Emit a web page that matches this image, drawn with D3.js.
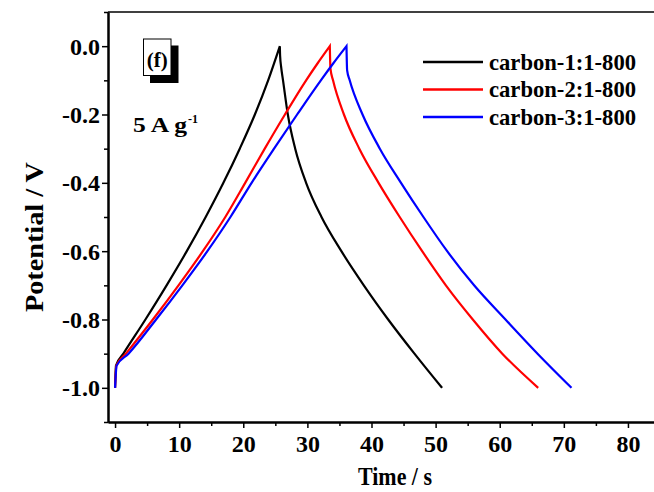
<!DOCTYPE html>
<html>
<head>
<meta charset="utf-8">
<script src="https://cdn.jsdelivr.net/npm/d3@7"></script>
<style>
  body { margin: 0; background: #fff; }
  svg { display: block; font-family: "Liberation Serif", "Times New Roman", serif; font-weight: bold; }
</style>
</head>
<body>
<svg id="chart" width="654" height="492"></svg>
<script>
// ---- data (time in s, potential in V) ----
const seriesNames = ["carbon-1:1-800", "carbon-2:1-800", "carbon-3:1-800"];
const seriesColors = ["#000000", "#ff0000", "#0000ff"];

// charge then discharge, one branch after the other (peak is the 0.0 V point)
const blackTime = [0, 0.15, 1.3, 4.74, 8.04, 11.19, 14.14, 16.9, 19.45, 21.81, 23.88, 25.7,
                   25.75, 25.9, 26.2, 26.95, 28.1, 29.8, 32.2, 35.3, 38.8, 42.6, 46.7, 51.0];
const blackV    = [-1.0, -0.935, -0.9, -0.8, -0.7, -0.6, -0.5, -0.4, -0.3, -0.2, -0.1, 0.0,
                   -0.03, -0.06, -0.1, -0.2, -0.3, -0.4, -0.5, -0.6, -0.7, -0.8, -0.9, -1.0];

const redTime = [0, 0.2, 1.7, 5.9, 9.9, 13.7, 17.2, 20.3, 23.35, 26.5, 29.8, 31.6, 33.5,
                 33.6, 34.0, 35.7, 38.1, 41.1, 44.4, 47.9, 51.6, 55.8, 60.4, 66.0];
const redV    = [-1.0, -0.935, -0.9, -0.8, -0.7, -0.6, -0.5, -0.4, -0.3, -0.2, -0.1, -0.05, 0.0,
                 -0.066, -0.1, -0.2, -0.3, -0.4, -0.5, -0.6, -0.7, -0.8, -0.9, -1.0];

const blueTime = [0, 0.25, 2.1, 6.4, 10.5, 14.4, 18.0, 21.3, 24.8, 28.4, 32.1, 34.05, 36.1,
                  36.2, 36.6, 38.6, 41.3, 44.6, 48.1, 51.8, 56.0, 60.9, 65.9, 71.2];
const blueV    = [-1.0, -0.935, -0.9, -0.8, -0.7, -0.6, -0.5, -0.4, -0.3, -0.2, -0.1, -0.05, 0.0,
                  -0.071, -0.1, -0.2, -0.3, -0.4, -0.5, -0.6, -0.7, -0.8, -0.9, -1.0];

const xTicks = [0, 10, 20, 30, 40, 50, 60, 70, 80];
const xMinorTicks = [5, 15, 25, 35, 45, 55, 65, 75, 85];
const yTicks = [0.0, -0.2, -0.4, -0.6, -0.8, -1.0];
const yMinorTicks = [0.1, -0.1, -0.3, -0.5, -0.7, -0.9, -1.1];

const series = [
  { name: seriesNames[0], color: seriesColors[0], t: blackTime, v: blackV },
  { name: seriesNames[1], color: seriesColors[1], t: redTime, v: redV },
  { name: seriesNames[2], color: seriesColors[2], t: blueTime, v: blueV }
];

const svg = d3.select("#chart");

// plot frame runs off the right edge of the image, like the original
const x = d3.scaleLinear().domain([-1.1, 85]).range([108, 660]);
const y = d3.scaleLinear().domain([-1.1, 0.1]).range([422, 12]);

// top border
svg.append("line")
  .attr("x1", 108).attr("x2", 660).attr("y1", 12).attr("y2", 12)
  .attr("stroke", "#000").attr("stroke-width", 1.5);

// axes
const xAxis = svg.append("g")
  .attr("transform", `translate(0,${y(-1.1)})`)
  .call(d3.axisBottom(x).tickValues(xTicks).tickSize(6).tickSizeOuter(0).tickFormat(d3.format("d")));
const xMinor = svg.append("g")
  .attr("transform", `translate(0,${y(-1.1)})`)
  .call(d3.axisBottom(x).tickValues(xMinorTicks).tickSize(4).tickSizeOuter(0).tickFormat(""));

const yAxis = svg.append("g")
  .attr("transform", `translate(${x(-1.1)},0)`)
  .call(d3.axisLeft(y).tickValues(yTicks).tickSize(6).tickSizeOuter(0).tickFormat(d3.format(".1f")));
const yMinor = svg.append("g")
  .attr("transform", `translate(${x(-1.1)},0)`)
  .call(d3.axisLeft(y).tickValues(yMinorTicks).tickSize(4).tickSizeOuter(0).tickFormat(""));

[xAxis, xMinor, yAxis, yMinor].forEach(g => {
  g.select(".domain").attr("stroke", "#000").attr("stroke-width", 2);
  g.selectAll(".tick line").attr("stroke", "#000").attr("stroke-width", 1.5);
  g.selectAll("text")
    .attr("fill", "#000")
    .style("font-family", "'Liberation Serif', serif")
    .style("font-weight", "bold")
    .style("font-size", "24px");
});
xAxis.selectAll("text").attr("y", 30).attr("dy", 0);
yAxis.selectAll("text").attr("x", -8).attr("dy", "0.33em")
  .text(d => d3.format(".1f")(d).replace("−", "-"));

// axis titles
svg.append("text")
  .attr("x", 395).attr("y", 485)
  .attr("text-anchor", "middle")
  .style("font-size", "25px")
  .attr("textLength", 74)
  .attr("lengthAdjust", "spacingAndGlyphs")
  .text("Time / s");

svg.append("text")
  .attr("transform", "translate(43,237) rotate(-90)")
  .attr("text-anchor", "middle")
  .style("font-size", "26px")
  .attr("textLength", 150)
  .attr("lengthAdjust", "spacingAndGlyphs")
  .text("Potential / V");

// curves: charge and discharge branches are smoothed separately so the peak stays sharp
const line = d3.line()
  .x(d => x(d[0]))
  .y(d => y(d[1]))
  .curve(d3.curveMonotoneX);

function gcdPath(s) {
  const pts = s.t.map((t, i) => [t, s.v[i]]);
  const peak = d3.maxIndex(s.v);
  const charge = line(pts.slice(0, peak + 1));
  const discharge = line(pts.slice(peak)).replace(/^M/, "L");
  return charge + discharge;
}

svg.append("g").selectAll("path")
  .data(series)
  .join("path")
    .attr("d", gcdPath)
    .attr("fill", "none")
    .attr("stroke", s => s.color)
    .attr("stroke-width", 2.2)
    .attr("stroke-linejoin", "miter");

// legend
const legend = svg.append("g");
series.forEach((s, i) => {
  const ly = 62 + i * 27.5;
  legend.append("line")
    .attr("x1", 423).attr("x2", 483).attr("y1", ly).attr("y2", ly)
    .attr("stroke", s.color).attr("stroke-width", 2.5);
  legend.append("text")
    .attr("x", 489).attr("y", ly + 7.5)
    .style("font-size", "23px")
    .attr("textLength", 147)
    .attr("lengthAdjust", "spacingAndGlyphs")
    .text(s.name);
});

// (f) label box with drop shadow
svg.append("rect")
  .attr("x", 150).attr("y", 45.5).attr("width", 28.5).attr("height", 37.5)
  .attr("fill", "#000");
svg.append("rect")
  .attr("x", 143.5).attr("y", 39).attr("width", 27.5).attr("height", 36.5)
  .attr("fill", "#fff").attr("stroke", "#000").attr("stroke-width", 1);
svg.append("text")
  .attr("x", 157.3).attr("y", 66.5)
  .attr("text-anchor", "middle")
  .style("font-size", "21px")
  .text("(f)");

// current density label
svg.append("text")
  .attr("x", 133).attr("y", 132)
  .style("font-size", "21px")
  .attr("textLength", 54)
  .attr("lengthAdjust", "spacingAndGlyphs")
  .text("5 A g");
svg.append("text")
  .attr("x", 188).attr("y", 123)
  .style("font-size", "12px")
  .text("-1");
</script>
</body>
</html>
